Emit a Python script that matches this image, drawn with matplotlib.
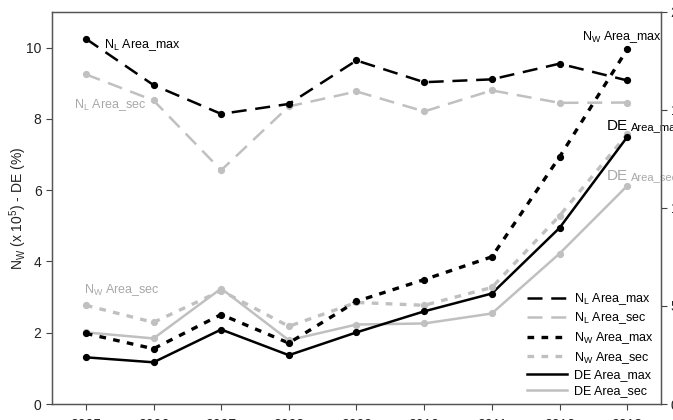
import matplotlib
matplotlib.use("Agg")
import matplotlib.pyplot as plt
import numpy as np

plt.rcParams['font.family'] = ['Liberation Sans', 'DejaVu Sans']
plt.rcParams['mathtext.fontset'] = 'custom'
plt.rcParams['mathtext.rm'] = 'Liberation Sans'
plt.rcParams['mathtext.it'] = 'Liberation Sans'

years = ['2005', '2006', '2007', '2008', '2009', '2010', '2011', '2012', '2013']
nl_area_max = [10.25, 8.95, 8.14, 8.42, 9.64, 9.03, 9.11, 9.55, 9.08]
nl_area_sec = [9.25, 8.52, 6.56, 8.35, 8.77, 8.21, 8.80, 8.45, 8.46]
nw_area_max = [1.98, 1.55, 2.51, 1.71, 2.88, 3.49, 4.13, 6.93, 9.95]
nw_area_sec = [2.77, 2.29, 3.18, 2.18, 2.85, 2.77, 3.27, 5.28, 7.57]
de_area_max = [1.31, 1.17, 2.09, 1.37, 2.01, 2.60, 3.10, 4.94, 7.49]
de_area_sec = [2.01, 1.84, 3.24, 1.79, 2.23, 2.26, 2.54, 4.22, 6.12]
left_ticks = [0, 2, 4, 6, 8, 10]
right_ticks = [0, 5, 10, 15, 20]

GRAY = '#c0c0c0'
TGRAY = '#a8a8a8'
BLACK = '#000000'

fig = plt.figure(figsize=(6.73, 4.2), dpi=100)
ax = fig.add_axes([52/673, 16/420, (661-52)/673, (404-12)/420])
x = np.arange(len(years))

series = [
    (nl_area_max, BLACK, (0, (6, 3.5)), 1.8, r'$\mathregular{N_L}$ Area_max'),
    (nl_area_sec, GRAY, (0, (6, 3.5)), 1.8, r'$\mathregular{N_L}$ Area_sec'),
    (nw_area_max, BLACK, (0, (2.0, 2.2)), 2.4, r'$\mathregular{N_W}$ Area_max'),
    (nw_area_sec, GRAY, (0, (2.0, 2.2)), 2.4, r'$\mathregular{N_W}$ Area_sec'),
    (de_area_max, BLACK, '-', 1.8, 'DE Area_max'),
    (de_area_sec, GRAY, '-', 1.8, 'DE Area_sec'),
]
order = [1, 3, 5, 0, 2, 4]
handles = {}
for i in order:
    vals, col, ls, lw, lab = series[i]
    ax.plot(x, vals, color=col, linestyle=ls, linewidth=lw, zorder=2)
    ax.plot(x, vals, linestyle='none', marker='o', markersize=4.2,
            color=col, zorder=3)
    h, = ax.plot([], [], color=col, linestyle=ls, linewidth=lw, label=lab)
    handles[i] = h

ax.set_xlim(-0.5, 8.5)
ax.set_ylim(0, 11)
ax.set_yticks(left_ticks)
ax.set_xticks(x)
ax.set_xticklabels(years)
ax.tick_params(axis='both', direction='out', length=4, labelsize=10,
               color='#444444', labelcolor='#222222')
ax.tick_params(axis='x', pad=6)
for s in ax.spines.values():
    s.set_color('#555555')
    s.set_linewidth(1.0)
ax.set_ylabel(r'$\mathregular{N_W}$ (x $\mathregular{10^5}$) - DE (%)', fontsize=10,
              color='#222222')
ax.yaxis.set_label_coords(-0.037, 0.5)

ax2 = ax.twinx()
ax2.set_ylim(0, 20)
ax2.set_yticks(right_ticks)
ax2.tick_params(axis='y', direction='out', length=4, labelsize=10, pad=3,
                color='#444444', labelcolor='#222222')
for s in ax2.spines.values():
    s.set_color('#555555')

leg = ax.legend(handles=[handles[i] for i in range(6)], loc='lower right',
                frameon=False, fontsize=9, handlelength=3.2,
                labelspacing=0.3, handletextpad=0.6, borderaxespad=0.15,
                bbox_to_anchor=(1.0, 0.0))

# annotations
ax.text(0.27, 10.08, r'$\mathregular{N_L}$ Area_max', color=BLACK, fontsize=9,
        va='center', ha='left')
ax.text(-0.17, 8.38, r'$\mathregular{N_L}$ Area_sec', color=TGRAY, fontsize=9,
        va='center', ha='left')
ax.text(-0.03, 3.2, r'$\mathregular{N_W}$ Area_sec', color=TGRAY, fontsize=9,
        va='center', ha='left')
ax.text(7.33, 10.3, r'$\mathregular{N_W}$ Area_max', color=BLACK, fontsize=9,
        va='center', ha='left')
t1 = ax.text(7.7, 7.8, 'DE', color=BLACK, fontsize=11, va='center', ha='left')
ax.annotate('Area_max', xy=(1, 0.05), xycoords=t1, xytext=(2, 0),
            textcoords='offset points', fontsize=8, color=BLACK,
            va='bottom', ha='left', annotation_clip=False)
t2 = ax.text(7.7, 6.4, 'DE', color=TGRAY, fontsize=11, va='center', ha='left')
ax.annotate('Area_sec', xy=(1, 0.05), xycoords=t2, xytext=(2, 0),
            textcoords='offset points', fontsize=8, color=TGRAY,
            va='bottom', ha='left', annotation_clip=False)

fig.savefig('out.png', dpi=100)
